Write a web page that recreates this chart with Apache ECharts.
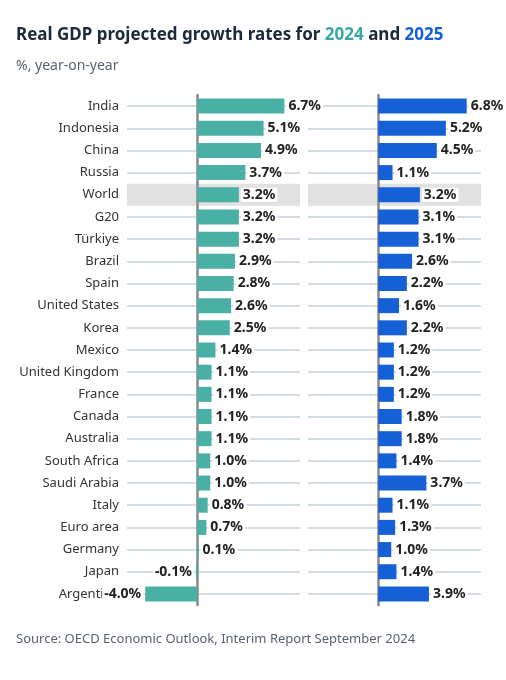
<!DOCTYPE html>
<html>
<head>
<meta charset="utf-8">
<script src="https://cdn.jsdelivr.net/npm/echarts@6/dist/echarts.min.js"></script>
<style>html,body{margin:0;padding:0;background:#fff}#chart{width:506px;height:680px}</style>
</head>
<body>
<div id="chart"></div>
<script>
var countries = ['India','Indonesia','China','Russia','World','G20','Türkiye','Brazil','Spain','United States','Korea','Mexico','United Kingdom','France','Canada','Australia','South Africa','Saudi Arabia','Italy','Euro area','Germany','Japan','Argentina'];
var growth2024 = [6.7,5.1,4.9,3.7,3.2,3.2,3.2,2.9,2.8,2.6,2.5,1.4,1.1,1.1,1.1,1.1,1.0,1.0,0.8,0.7,0.1,-0.1,-4.0];
var growth2025 = [6.8,5.2,4.5,1.1,3.2,3.1,3.1,2.6,2.2,1.6,2.2,1.2,1.2,1.2,1.8,1.8,1.4,3.7,1.1,1.3,1.0,1.4,3.9];

var myChart = echarts.init(document.getElementById('chart'));
var font = 'Noto Sans';

// band colours: only the World row is highlighted
var bandColors = countries.map(function (c) { return c === 'World' ? '#e1e1e1' : 'rgba(0,0,0,0)'; });

var makeSeries = function (data, color, idx) {
    return {
        type: 'bar', xAxisIndex: idx, yAxisIndex: idx * 2, barWidth: 15,
        data: data.map(function (v) {
            return v < 0 ? { value: v, label: { position: 'left' } } : v;
        }),
        itemStyle: { color: color },
        label: {
            show: true, fontFamily: font, fontWeight: 'bold', fontSize: 14, color: '#222',
            backgroundColor: '#fff', padding: [0, 2],
            position: 'right', distance: 2,
            formatter: function (p) { return p.value.toFixed(1) + '%'; }
        }
    };
};

var axisX = function (idx) {
    return {
        gridIndex: idx, type: 'value', min: -5.4, max: 7.9,
        axisLine: { show: false }, axisTick: { show: false },
        axisLabel: { show: false }, splitLine: { show: false }
    };
};
var axisY = function (idx) {
    return {
        gridIndex: idx, type: 'category', data: countries, inverse: true,
        axisLine: { show: true, onZero: true, lineStyle: { color: '#8a8a8a', width: 2.5 } },
        axisTick: { show: false },
        splitArea: { show: true, areaStyle: { color: bandColors } },
        axisLabel: { show: idx === 0, fontFamily: font, fontSize: 13, color: '#333', margin: 8 },
        z: 1
    };
};
// row guide lines through the middle of each category band
var axisRows = function (idx) {
    return {
        gridIndex: idx, type: 'value', min: 0, max: countries.length * 2, interval: 1,
        position: 'right', inverse: true,
        axisLine: { show: false }, axisTick: { show: false }, axisLabel: { show: false },
        splitLine: { show: true, lineStyle: { color: ['rgba(0,0,0,0)', '#c9d0da'], width: 1.5 } },
        z: 0
    };
};

myChart.setOption({
    animation: false,
    title: [{
        left: 11, top: 22,
        text: '{a|Real GDP projected growth rates for }{b|2024}{a| and }{c|2025}',
        textStyle: { rich: {
            a: { fontFamily: font, fontSize: 17, fontWeight: 'bold', color: '#1d2a3a' },
            b: { fontFamily: font, fontSize: 17, fontWeight: 'bold', color: '#3aa7a0' },
            c: { fontFamily: font, fontSize: 17, fontWeight: 'bold', color: '#1560d6' }
        } }
    }, {
        left: 11, top: 54, text: '%, year-on-year',
        textStyle: { fontFamily: font, fontSize: 14, fontWeight: 'normal', color: '#5a6270' }
    }, {
        left: 11, top: 628, text: 'Source: OECD Economic Outlook, Interim Report September 2024',
        textStyle: { fontFamily: font, fontSize: 13, fontWeight: 'normal', color: '#5a6270' }
    }],
    grid: [
        { left: 127, width: 173, top: 95, height: 510 },
        { left: 308, width: 173, top: 95, height: 510 }
    ],
    xAxis: [axisX(0), axisX(1)],
    yAxis: [axisY(0), axisRows(0), axisY(1), axisRows(1)],
    series: [
        makeSeries(growth2024, '#4aafa5', 0), makeSeries(growth2025, '#1560d6', 1)
    ]
});
</script>
</body>
</html>
